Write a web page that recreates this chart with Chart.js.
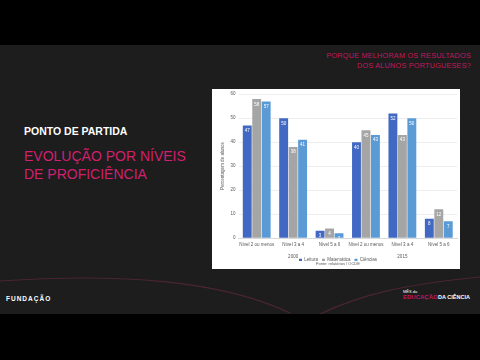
<!DOCTYPE html>
<html>
<head>
<meta charset="utf-8">
<script src="https://cdn.jsdelivr.net/npm/chart.js@4"></script>
<style>
  html,body{margin:0;padding:0;background:#000;width:480px;height:360px;overflow:hidden;font-family:"Liberation Sans",Arial,sans-serif;}
  #slide{position:absolute;left:0;top:45px;width:480px;height:269px;background:#1d1d1d;overflow:hidden;}
  .t{position:absolute;white-space:nowrap;}
  #panel{position:absolute;left:212px;top:89px;width:248px;height:180px;background:#fff;}
  #c{position:absolute;left:0;top:0;}
</style>
</head>
<body>
<div id="slide">
  <svg width="480" height="269" style="position:absolute;left:0;top:0">
    <path d="M0,236 C120,228 220,235 290,268" stroke="#4a2633" stroke-width="1.2" fill="none"/>
    <path d="M320,269 C360,250 400,240 480,232" stroke="#4a2633" stroke-width="1.2" fill="none"/>
  </svg>
  <div class="t" style="right:9px;top:6px;color:#c2185b;font-size:7.3px;text-align:right;line-height:9.5px;letter-spacing:0.2px;">PORQUE MELHORAM OS RESULTADOS<br>DOS ALUNOS PORTUGUESES?</div>
  <div class="t" style="left:24px;top:80px;color:#fff;font-size:10.5px;font-weight:bold;">PONTO DE PARTIDA</div>
  <div class="t" style="left:24px;top:102px;color:#d0206e;font-size:14px;line-height:18px;">EVOLUÇÃO POR NÍVEIS<br>DE PROFICIÊNCIA</div>
  <div class="t" style="left:6px;top:250px;color:#fff;font-size:6.5px;font-weight:bold;letter-spacing:1px;">FUNDAÇÃO</div>
  <div class="t" style="left:403px;top:244px;color:#fff;font-size:4px;">MÊS da</div>
  <div class="t" style="left:403px;top:249px;color:#c2185b;font-size:6px;font-weight:bold;">EDUCAÇÃO</div>
  <div class="t" style="left:438px;top:249px;color:#fff;font-size:5.5px;font-weight:bold;">DA CIÊNCIA</div>
</div>
<div id="panel"><canvas id="c" width="248" height="180"></canvas></div>
<script>
const categories = ["Nível 2 ou menos","Nível 3 a 4","Nível 5 a 6","Nível 2 ou menos","Nível 3 a 4","Nível 5 a 6"];
const years = ["","2000","","","2015",""];
const leitura = [47, 50, 3, 40, 52, 8];
const matematica = [58, 38, 4, 45, 43, 12];
const ciencias = [57, 41, 2, 43, 50, 7];
const yTicks = [0, 10, 20, 30, 40, 50, 60];

const labelPlugin = {
  id: 'barLabels',
  afterDatasetsDraw(chart) {
    const ctx = chart.ctx;
    ctx.save();
    ctx.fillStyle = '#ffffff';
    ctx.font = '4.5px "Liberation Sans", Arial, sans-serif';
    ctx.textAlign = 'center';
    ctx.textBaseline = 'top';
    chart.data.datasets.forEach((ds, i) => {
      const meta = chart.getDatasetMeta(i);
      meta.data.forEach((el, j) => {
        ctx.fillText(String(ds.data[j]), el.x, el.y + 3);
      });
    });
    ctx.restore();
  }
};

// make the bottom legend compact: remove Chart.js's built-in spacing above/below it
const SHRINK = 19;
const SHIFT = 7;
const tightLegend = {
  id: 'tightLegend',
  beforeLayout(chart) {
    const lg = chart.legend;
    if (lg && !lg._tight) {
      const orig = lg.fit.bind(lg);
      lg.fit = function () { orig(); this.height = Math.max(0, this.height - SHRINK); };
      lg._tight = true;
    }
  },
  afterLayout(chart) {
    const lg = chart.legend;
    if (lg) { lg.top -= SHIFT; }
  }
};

const f = {size: 4.5, lineHeight: 1};

new Chart(document.getElementById('c'), {
  type: 'bar',
  data: {
    labels: categories,
    datasets: [
      {label: 'Leitura', data: leitura, backgroundColor: '#4169c4', xAxisID: 'x'},
      {label: 'Matemática', data: matematica, backgroundColor: '#a5a5a5', xAxisID: 'x'},
      {label: 'Ciências', data: ciencias, backgroundColor: '#5b9bd5', xAxisID: 'x'}
    ]
  },
  options: {
    responsive: false,
    animation: false,
    devicePixelRatio: 1,
    layout: {padding: {left: 7, right: 3, top: 4, bottom: 2}},
    datasets: {bar: {categoryPercentage: 0.78, barPercentage: 0.94}},
    scales: {
      x: {
        position: 'bottom',
        grid: {display: false, drawTicks: false, tickLength: 0},
        border: {display: true, color: '#d9d9d9'},
        ticks: {font: f, color: '#595959', padding: 5, maxRotation: 0, minRotation: 0, autoSkip: false}
      },
      x2: {
        type: 'category',
        labels: years,
        position: 'bottom',
        grid: {display: false, drawTicks: false, tickLength: 0},
        border: {display: false},
        ticks: {font: f, color: '#595959', padding: 2, maxRotation: 0, minRotation: 0, autoSkip: false}
      },
      y: {
        min: 0, max: 60,
        afterBuildTicks: (ax) => { ax.ticks = yTicks.map(v => ({value: v})); },
        grid: {color: '#e3e3e3', lineWidth: 0.6, drawTicks: false},
        border: {display: false},
        ticks: {font: f, color: '#595959', padding: 3},
        title: {display: true, text: 'Percentagem de alunos', font: f, color: '#595959', padding: 2}
      }
    },
    plugins: {
      legend: {
        position: 'bottom',
        labels: {boxWidth: 3, boxHeight: 3, font: f, color: '#595959', padding: 4}
      },
      title: {
        display: true, position: 'bottom', text: 'Fonte: relatórios / OCDE',
        font: {size: 4, weight: 'normal', lineHeight: 1}, color: '#595959', padding: {top: 1, bottom: 1}
      },
      tooltip: {enabled: false}
    }
  },
  plugins: [labelPlugin, tightLegend]
});
</script>
</body>
</html>
